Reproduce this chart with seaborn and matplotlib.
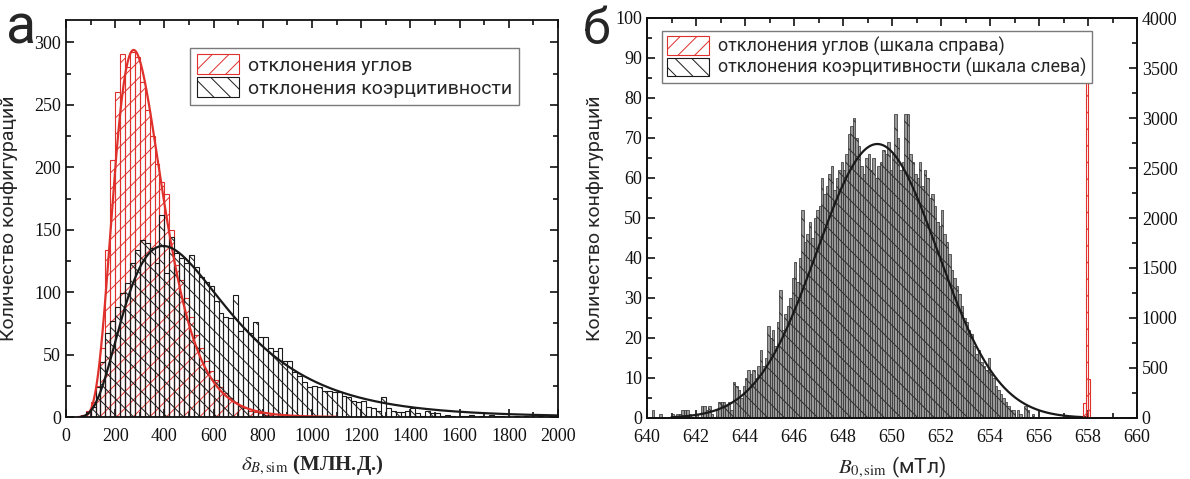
import numpy as np
import pandas as pd
import matplotlib
matplotlib.use("Agg")
import matplotlib.pyplot as plt
from matplotlib.patches import Patch
from matplotlib.ticker import MultipleLocator
import seaborn as sns

# ---------------- data ----------------
# panel а: histograms of delta_B,sim (ppm), bin width 20
a_bin_width = 20
a_red_start = 60
a_red_counts = [2, 5, 12, 25, 55, 134, 206, 260, 291, 280, 292, 288, 268, 246,
                225, 203, 188, 179, 150, 122, 110, 95, 80, 66, 55, 45, 37, 30,
                24, 19, 15, 12, 9, 7, 5, 4, 3, 2, 2, 1, 1]
a_black_start = 80
a_black_counts = [4, 8, 24, 44, 67, 77, 88, 99, 107, 123, 134, 142, 139, 135,
                  123, 162, 115, 144, 131, 127, 123, 130, 120, 112, 108, 105,
                  93, 83, 80, 79, 98, 69, 80, 67, 76, 64, 64, 55, 53, 55, 45,
                  45, 36, 33, 28, 24, 25, 24, 21, 21, 20, 20, 17, 16, 13, 12,
                  13, 8, 7, 5, 16, 7, 5, 4, 4, 5, 7, 3, 1, 5, 3, 3, 1, 2,
                  1, 0, 1, 1, 2, 0, 1, 0, 2, 1, 1, 0, 0, 1, 0, 1, 0, 0, 1, 0,
                  1, 0]
# log-normal fits: (mode, sigma, peak height)
a_red_fit = (275, 0.36, 294)
a_black_fit = (395, 0.53, 137)

# panel б: histograms of B0,sim (mT), bin width 0.1
b_bin_width = 0.1
b_black_start = 640.0
b_black_counts = [0, 0, 2, 0, 0, 1, 0, 0, 0, 0,            # 640
                  1, 0, 1, 1, 2, 2, 2, 1, 0, 0,            # 641
                  1, 0, 3, 3, 2, 3, 1, 0, 2, 4,            # 642
                  4, 4, 3, 4, 2, 9, 8, 7, 5, 8,            # 643
                  10, 12, 11, 12, 10, 13, 17, 13, 15, 23,  # 644
                  20, 22, 18, 24, 32, 22, 26, 28, 30, 35,  # 645
                  39, 34, 40, 52, 44, 46, 49, 45, 50, 52,  # 646
                  53, 60, 56, 58, 61, 63, 57, 60, 62, 64,  # 647
                  62, 66, 71, 73, 75, 70, 68, 63, 61, 65,  # 648
                  66, 62, 65, 60, 63, 64, 67, 66, 69, 62,  # 649
                  66, 76, 70, 62, 64, 76, 76, 66, 64, 61,  # 650
                  60, 64, 58, 62, 60, 55, 56, 53, 49, 48,  # 651
                  52, 46, 44, 41, 37, 35, 33, 31, 28, 25,  # 652
                  24, 22, 21, 18, 16, 17, 14, 13, 12, 15,  # 653
                  11, 10, 8, 7, 6, 5, 4, 3, 2, 2,          # 654
                  0, 2, 1, 0, 3, 2, 0, 1, 0, 0]            # 655
b_red_start = 657.8
b_red_counts = [150, 3430, 390]
# gaussian fit: (centre, sigma, peak height)
b_black_fit = (649.4, 2.47, 68.5)

legend_a = ["отклонения углов", "отклонения коэрцитивности"]
legend_b = ["отклонения углов (шкала справа)",
            "отклонения коэрцитивности (шкала слева)"]
ylabel = "Количество конфигураций"

RED = "#e0302b"
BLACK = "#1a1a1a"

# ---------------- style ----------------
sns.set_theme(style="ticks")
plt.rcParams["font.family"] = ["Roboto", "DejaVu Sans"]
plt.rcParams["mathtext.fontset"] = "stix"
plt.rcParams["hatch.linewidth"] = 0.7
SERIF = ["Liberation Serif", "DejaVu Serif"]


def binned(start, width, counts):
    """Table of bin centres and their counts."""
    n = len(counts)
    centres = start + width * (np.arange(n) + 0.5)
    return pd.DataFrame({"x": centres, "n": np.asarray(counts, float)})


def draw_hist(ax, start, width, counts, **kws):
    df = binned(start, width, counts)
    sns.histplot(data=df, x="x", weights="n", binwidth=width,
                 binrange=(start, start + width * len(counts)), ax=ax,
                 alpha=1, **kws)


def lognormal(x, mode, sigma, peak):
    return peak * np.exp(-np.log(x / mode) ** 2 / (2 * sigma ** 2))


def gaussian(x, centre, sigma, peak):
    return peak * np.exp(-(x - centre) ** 2 / (2 * sigma ** 2))


def style_axes(ax):
    for s in ax.spines.values():
        s.set_linewidth(1.3)
        s.set_color("#111111")
    ax.tick_params(which="both", direction="in", colors="#111111",
                   labelsize=13, width=1.2)
    ax.tick_params(which="major", length=6)
    ax.tick_params(which="minor", length=3.5)
    ax.tick_params(axis="x", pad=8)
    for lab in ax.get_xticklabels() + ax.get_yticklabels():
        lab.set_fontfamily(SERIF)


fig = plt.figure(figsize=(11.9, 4.79), dpi=100)
W, H = 1190, 479

# ---------------- panel а ----------------
ax_a = fig.add_axes([66 / W, 1 - 417 / H, 492 / W, 397 / H])
draw_hist(ax_a, a_red_start, a_bin_width, a_red_counts, fill=False,
          color=RED, linewidth=0.8, hatch="//")
draw_hist(ax_a, a_black_start, a_bin_width, a_black_counts, fill=False,
          color=BLACK, linewidth=0.8, hatch="\\\\")

xr = np.linspace(50, 1100, 600)
sns.lineplot(x=xr, y=lognormal(xr, *a_red_fit), ax=ax_a, color=RED,
             linewidth=1.6)
xb = np.linspace(60, 2000, 800)
sns.lineplot(x=xb, y=lognormal(xb, *a_black_fit), ax=ax_a, color=BLACK,
             linewidth=1.6)

ax_a.set_xlim(0, 2000)
ax_a.set_ylim(0, 318)
ax_a.xaxis.set_major_locator(MultipleLocator(200))
ax_a.xaxis.set_minor_locator(MultipleLocator(100))
ax_a.yaxis.set_major_locator(MultipleLocator(50))
ax_a.yaxis.set_minor_locator(MultipleLocator(25))
ax_a.tick_params(which="both", top=True, right=True)
style_axes(ax_a)
ax_a.set_ylabel(ylabel, fontsize=14)
ax_a.yaxis.set_label_coords(-0.098, 0.5)
ax_a.set_xlabel(r"$\delta_{B,\mathrm{sim}}$ (МЛН.Д.)", fontsize=15,
                fontfamily=SERIF, fontweight="bold", labelpad=6)

handles_a = [Patch(facecolor="white", edgecolor=RED, hatch="//", linewidth=0.8),
             Patch(facecolor="white", edgecolor=BLACK, hatch="\\\\", linewidth=0.8)]
leg = ax_a.legend(handles_a, legend_a, loc="upper left",
                  bbox_to_anchor=(0.232, 0.955), fontsize=14, frameon=True,
                  fancybox=False, framealpha=1, edgecolor="#7a7a7a",
                  handlelength=2.2, handleheight=1.2, borderpad=0.35,
                  labelspacing=0.12, handletextpad=0.45)
leg.get_frame().set_linewidth(1.0)

# ---------------- panel б ----------------
ax_b = fig.add_axes([647 / W, 1 - 418 / H, 490 / W, 400 / H])
draw_hist(ax_b, b_black_start, b_bin_width, b_black_counts, fill=True,
          color="#9a9a9a", edgecolor="#2a2a2a", linewidth=0.5, hatch="\\\\")
xg = np.linspace(641, 658, 600)
sns.lineplot(x=xg, y=gaussian(xg, *b_black_fit), ax=ax_b, color=BLACK,
             linewidth=1.6)
ax_b.set_xlim(640, 660)
ax_b.set_ylim(0, 100)
ax_b.xaxis.set_major_locator(MultipleLocator(2))
ax_b.xaxis.set_minor_locator(MultipleLocator(1))
ax_b.yaxis.set_major_locator(MultipleLocator(10))
ax_b.yaxis.set_minor_locator(MultipleLocator(5))
ax_b.tick_params(which="both", top=True, right=False)
style_axes(ax_b)
ax_b.set_ylabel(ylabel, fontsize=14)
ax_b.yaxis.set_label_coords(-0.088, 0.5)
ax_b.set_xlabel(r"$B_{0,\mathrm{sim}}$ (мТл)", fontsize=15, labelpad=6)

ax_b2 = ax_b.twinx()
draw_hist(ax_b2, b_red_start, b_bin_width, b_red_counts, fill=False,
          color=RED, linewidth=0.8, hatch="//")
ax_b2.set_xlim(640, 660)
ax_b2.set_ylim(0, 4000)
ax_b2.yaxis.set_major_locator(MultipleLocator(500))
ax_b2.yaxis.set_minor_locator(MultipleLocator(250))
style_axes(ax_b2)
ax_b2.set_ylabel("")

handles_b = [Patch(facecolor="white", edgecolor=RED, hatch="//", linewidth=0.8),
             Patch(facecolor="white", edgecolor=BLACK, hatch="\\\\", linewidth=0.8)]
leg = ax_b2.legend(handles_b, legend_b, loc="upper left",
                   bbox_to_anchor=(0.012, 0.99), fontsize=13, frameon=True,
                   fancybox=False, framealpha=1, edgecolor="#7a7a7a",
                   handlelength=2.3, handleheight=1.2, borderpad=0.3,
                   labelspacing=0.1, handletextpad=0.5)
leg.get_frame().set_linewidth(1.0)

# panel letters
fig.text(6 / W, 1 - 44 / H, "а", fontsize=40, fontfamily=["Roboto"])
fig.text(583 / W, 1 - 44 / H, "б", fontsize=36, fontfamily=["Roboto"])

fig.savefig("out.png", dpi=100)
